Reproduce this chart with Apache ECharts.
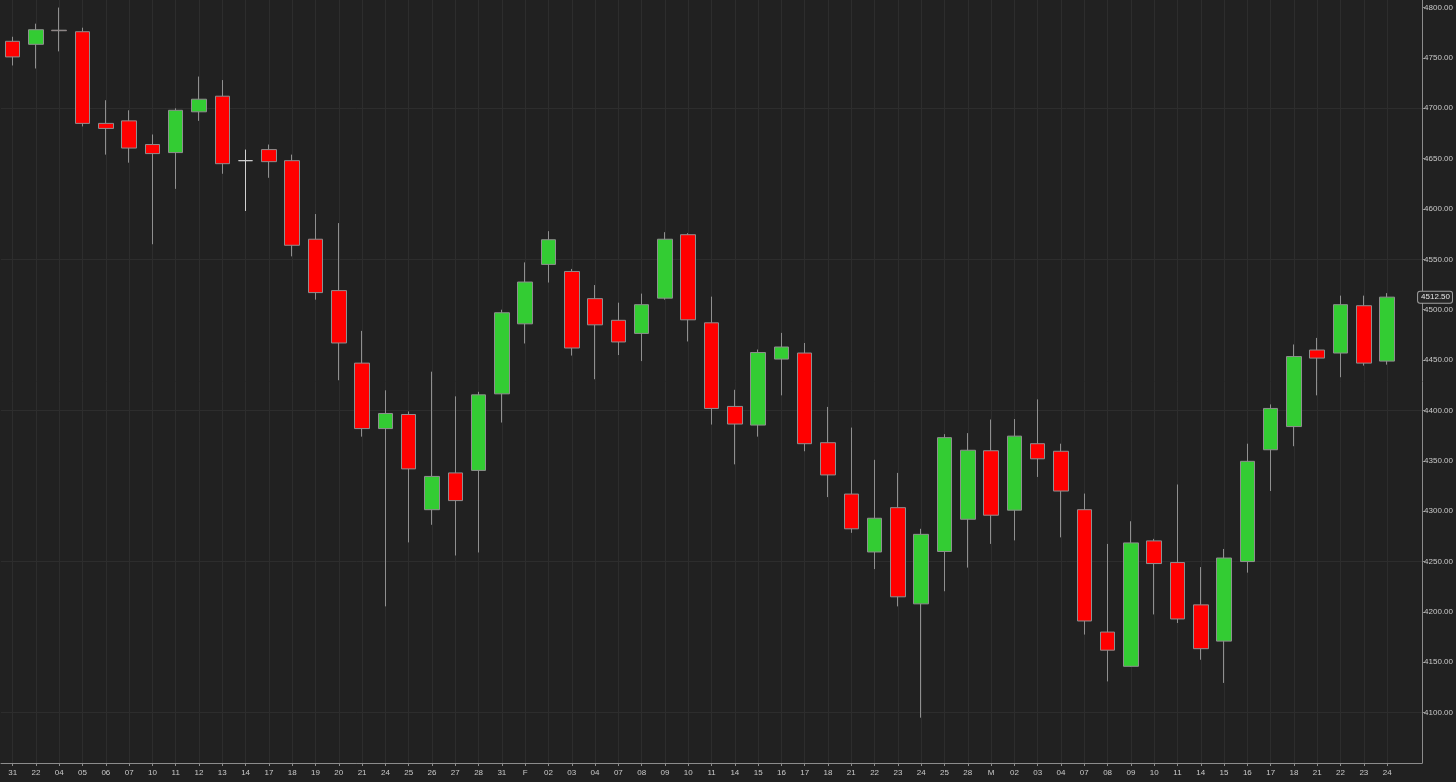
<!DOCTYPE html>
<html>
<head>
<meta charset="utf-8">
<script src="https://cdn.jsdelivr.net/npm/echarts@6/dist/echarts.min.js"></script>
<style>
html,body{margin:0;padding:0;background:#212121;}
#chart{width:1456px;height:782px;}
</style>
</head>
<body>
<div id="chart"></div>
<script>
const categories = ['31','22','04','05','06','07','10','11','12','13','14','17','18','19','20','21','24','25','26','27','28','31',
  'F','02','03','04','07','08','09','10','11','14','15','16','17','18','21','22','23','24','25','28',
  'M','02','03','04','07','08','09','10','11','14','15','16','17','18','21','22','23','24'];
const opens = [4766.5,4763.5,4777.5,4776,4685,4687.5,4664,4656,4696.5,4712,4648,4659,4648,4570,4519,4447,4382,4396,4301.5,4338,4340.5,4416.5,
  4486,4545,4538,4511,4489.5,4476.5,4511.5,4574.5,4487,4404,4385.5,4451,4457,4368,4317,4259.5,4303.5,4208,4260,4292,
  4360,4301,4367,4359.5,4301.5,4180,4146,4270.5,4249,4207,4171,4250,4361,4384,4460,4457,4504,4449];
const closes = [4751,4778,4777,4685,4680,4660.5,4655,4698,4709,4645,4648,4647,4564,4517,4467,4382,4397,4342,4334.5,4310.5,4415.5,4497,
  4527.5,4569.5,4462,4485,4468,4505,4570,4490,4402,4386.5,4457.5,4463,4367,4336,4282.5,4293,4215,4277,4373,4360.5,
  4296,4374.5,4352,4320,4191,4162,4268.5,4248,4193,4163.5,4253.5,4349.5,4402,4453.5,4452,4505,4447,4512.5];
const lows = [4742.5,4739.5,4756.5,4682,4654,4646,4565,4620,4687.5,4635,4598,4631,4553,4510,4430,4374,4205.5,4269,4286.5,4256,4259,4388,
  4466.5,4527,4454.5,4431,4455,4449,4510,4468.5,4386,4346.5,4374,4415,4359.5,4314,4278.5,4242.5,4205.5,4095,4220.5,4244,
  4267.5,4271,4334,4274,4177.5,4131,4145.5,4197.5,4189,4152.5,4129.5,4239,4320,4364.5,4415,4433,4444.5,4445.5];
const highs = [4771,4784,4800,4780,4708,4698,4674,4700,4731.5,4728,4659,4664,4654,4595,4586,4479,4420,4399,4438.5,4414,4418.5,4500,
  4547,4578,4540.5,4524.5,4507,4516,4577,4576,4513,4420.5,4460.5,4477,4467,4403.5,4383,4351,4338,4282.5,4376.5,4377.5,
  4391,4391.5,4411,4367,4317.5,4267.5,4290,4272.5,4326.5,4244.5,4262.5,4367,4406,4465.5,4472,4514,4514,4516.5];
const gridValues = [4100, 4250, 4400, 4550, 4700];

const ohlc = opens.map((o, i) => [o, closes[i], lows[i], highs[i]]);
const lastClose = closes[closes.length - 1];
const axisFont = {color: '#c9c9c9', fontSize: 8, fontFamily: 'Liberation Sans, Arial, sans-serif'};
const gridLine = {color: '#2d2d2d', width: 1, type: 'solid'};

const chart = echarts.init(document.getElementById('chart'), null, {renderer: 'canvas'});
chart.setOption({
  backgroundColor: '#212121',
  animation: false,
  grid: {left: 1, right: 32, top: 0, bottom: 19, containLabel: false},
  xAxis: {
    type: 'category',
    data: categories.concat(['']),
    boundaryGap: true,
    z: 4,
    axisLine: {lineStyle: {color: '#8c8c8c', width: 1}},
    axisTick: {show: true, alignWithLabel: true, length: 3, lineStyle: {color: '#8c8c8c'},
      interval: (idx) => idx < categories.length},
    axisLabel: Object.assign({interval: 0, margin: 6}, axisFont),
    splitLine: {show: false}
  },
  yAxis: {
    type: 'value',
    position: 'right',
    min: 4050,
    max: 4807.5,
    interval: 50,
    z: 4,
    axisLine: {show: true, lineStyle: {color: '#8c8c8c', width: 1}},
    axisTick: {show: true, length: 3, lineStyle: {color: '#8c8c8c'}},
    axisLabel: Object.assign({margin: 2, showMinLabel: false, showMaxLabel: false,
      formatter: (v) => v.toFixed(2)}, axisFont),
    splitLine: {show: false}
  },
  series: [
    {
      type: 'line',
      z: 0,
      data: categories.map(() => null),
      showSymbol: false,
      silent: true,
      markLine: {
        z: 0,
        silent: true,
        symbol: 'none',
        animation: false,
        label: {show: false},
        lineStyle: gridLine,
        data: gridValues.map(v => ({yAxis: v})).concat(categories.map((c, i) => ({xAxis: i})))
      }
    },
    {
      type: 'candlestick',
      z: 3,
      barWidth: 15,
      data: ohlc,
      itemStyle: {
        color: '#33cc33',
        color0: '#ff0000',
        borderColor: '#8f8f8f',
        borderColor0: '#8f8f8f',
        borderColorDoji: '#d0d0d0',
        borderWidth: 1
      },
      markLine: {
        z: 6,
        silent: true,
        symbol: 'none',
        animation: false,
        lineStyle: {color: 'rgba(0,0,0,0)', width: 0},
        label: {
          show: true,
          position: 'end',
          distance: -4,
          formatter: () => lastClose.toFixed(2),
          color: '#e6e6e6',
          fontSize: 8,
          fontFamily: 'Liberation Sans, Arial, sans-serif',
          backgroundColor: '#262626',
          borderColor: '#a0a0a0',
          borderWidth: 1,
          borderRadius: 2,
          padding: [2, 2, 1, 3]
        },
        data: [{yAxis: lastClose}]
      }
    }
  ]
});
</script>
</body>
</html>
